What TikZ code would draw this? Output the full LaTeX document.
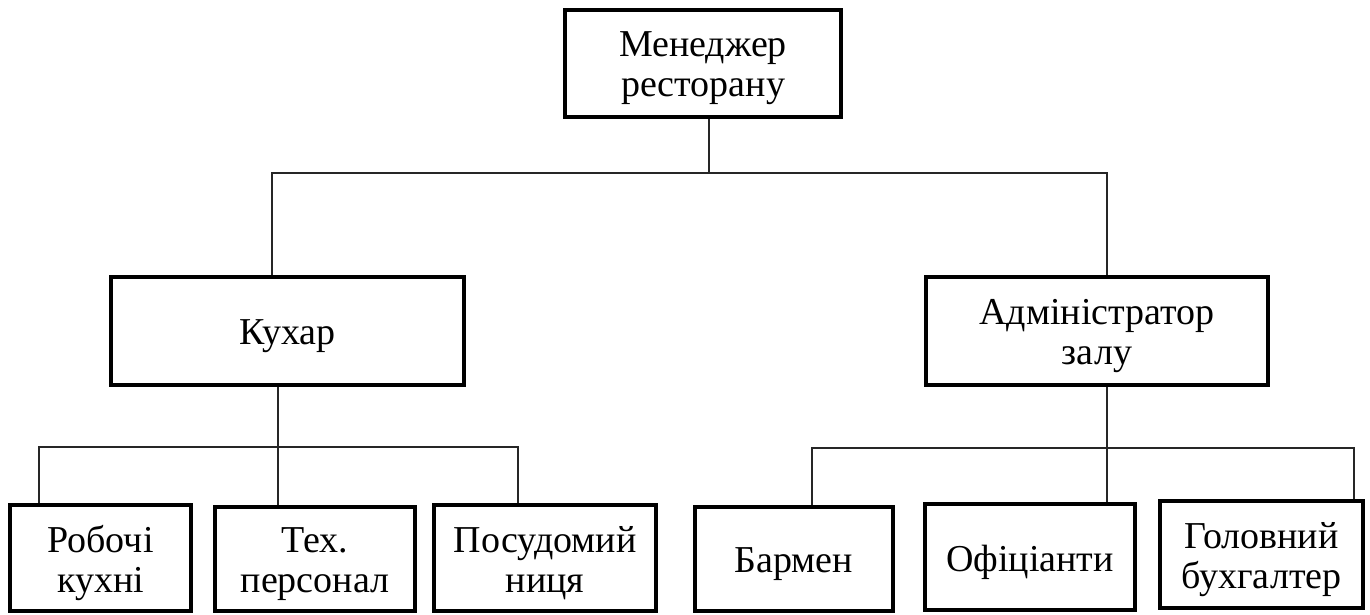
\documentclass[tikz,border=0pt]{standalone}
\usepackage{fontspec}
\setmainfont{Liberation Serif}
\begin{document}
\begin{tikzpicture}[x=1pt,y=-1pt,
  post/.style={draw=black, line width=4pt, fill=white, inner sep=0pt},
  posttext/.style={inner sep=0pt, align=center,
    font=\fontsize{38}{40}\selectfont},
  wire/.style={draw=black!85, line width=1.3pt}]
\useasboundingbox (0,0) rectangle (1370,615);

% boxes: centre, width and height taken from their outer edges;
% the caption sits slightly below the box centre
\newcommand{\postbox}[6]{%
  \node[post, minimum width={#4-#2-4pt}, minimum height={#5-#3-4pt}]
    (#1) at ({(#2+#4)/2},{(#3+#5)/2}) {};
  \node[posttext] (#1-text) at ([yshift=-5pt]#1.center) {#6};}

\postbox{top}{563}{8}{843}{119}{Менеджер\\ресторану}
\postbox{cook}{109}{275}{466}{387}{Кухар}
\postbox{admin}{924}{275}{1270}{387}{Адміністратор\\залу}
\postbox{work}{8}{503}{193}{613}{Робочі\\кухні}
\postbox{tech}{213}{505}{417}{613}{Тех.\\персонал}
\postbox{dish}{432}{503}{658}{613}{Посудомий\\ниця}
\postbox{bar}{693}{505}{895}{613}{Бармен}
\postbox{wait}{923}{502}{1137}{612}{Офіціанти}
\postbox{acct}{1158}{499}{1365}{610}{Головний\\бухгалтер}

% bus junctions
\coordinate (bL) at (272,173);
\coordinate (bM) at (709,173);
\coordinate (bR) at (1107,173);
\coordinate (kL) at (39,447);
\coordinate (kM) at (278,447);
\coordinate (kR) at (518,447);
\coordinate (hL) at (812,448);
\coordinate (hM) at (1107,448);
\coordinate (hR) at (1354,448);

\draw[wire] (top.south -| bM) -- (bM);
\draw[wire] (cook.north -| bL) -- (bL) -- (bR) -- (admin.north -| bR);
\draw[wire] (cook.south -| kM) -- (tech.north -| kM);
\draw[wire] (work.north -| kL) -- (kL) -- (kR) -- (dish.north -| kR);
\draw[wire] (admin.south -| hM) -- (wait.north -| hM);
\draw[wire] (bar.north -| hL) -- (hL) -- (hR) -- (acct.north -| hR);
\end{tikzpicture}
\end{document}
